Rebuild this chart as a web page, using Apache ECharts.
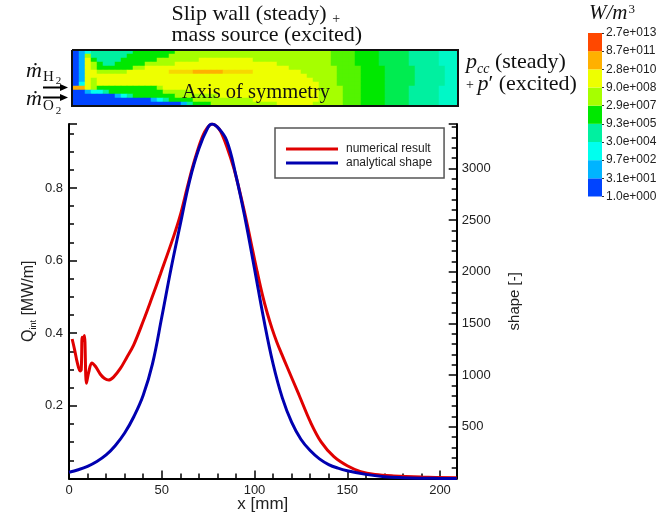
<!DOCTYPE html>
<html>
<head>
<meta charset="utf-8">
<title>Heat release: numerical result vs. analytical shape</title>
<script src="https://cdn.jsdelivr.net/npm/echarts@6/dist/echarts.min.js"></script>
<style>
  html, body { margin: 0; padding: 0; background: #fff; }
  #chart { width: 661px; height: 518px; }
</style>
</head>
<body>
<div id="chart"></div>
<script>
// ---- Axial profile: integrated heat release of the simulation [MW/m] ----
const numericalX = [1.7, 3.0, 4.5, 6.0, 6.6, 7.1, 7.6, 8.3, 9.4, 10.6, 12.3, 14.2, 16.9, 19.0, 21.4,
  24.0, 27.7, 31.0, 34.9, 40.3, 44.3, 49.3, 56.5, 60.0, 63.7, 66.5, 69.1, 72.0, 74.5, 77.2, 79.5,
  81.7, 85.0, 88.8, 92.5, 96.1, 99.0, 101.5, 104.2, 106.9, 109.5, 112.0, 114.8, 117.6, 124.0, 130.2,
  136.0, 142.8, 150.0, 157.2, 165.0, 175.0, 190.0, 209.0];
const numericalQ = [0.384, 0.355, 0.318, 0.296, 0.300, 0.389, 0.380, 0.394, 0.262, 0.292, 0.318, 0.309, 0.287, 0.276, 0.271,
  0.279, 0.303, 0.332, 0.368, 0.437, 0.492, 0.563, 0.668, 0.725, 0.800, 0.855, 0.900, 0.942, 0.965, 0.976, 0.970,
  0.956, 0.915, 0.855, 0.780, 0.699, 0.628, 0.568, 0.507, 0.455, 0.412, 0.376, 0.341, 0.307, 0.230, 0.155,
  0.100, 0.060, 0.035, 0.019, 0.011, 0.007, 0.004, 0.002];

// ---- Axial profile: analytical heat-release shape [-] ----
const shapeX = [0, 5, 10, 15, 20, 25, 30, 35, 40, 45, 50, 55, 60, 65, 70, 75, 77.2, 80, 85, 90, 95,
  100, 105, 110, 115, 120, 125, 130, 135, 140, 145, 150, 160, 170, 180, 190, 200, 209];
const shapeValue = [60, 85, 118, 165, 228, 320, 440, 600, 805, 1110, 1560, 2030, 2460, 2880, 3190, 3400, 3430, 3400, 3270, 2930, 2510,
  2030, 1540, 1110, 780, 545, 380, 270, 190, 135, 100, 75, 40, 18, 8, 3, 1, 0];

// ---- Axis ranges ----
const xRange = [0, 209];
const qRange = [0, 0.976];
const shapeRange = [0, 3430];

// ---- Heat release rate field, contour level per cell ----
// Rows run from the slip wall (top) to the axis of symmetry (bottom).
// '0'..'8' are the colour-bar bands, 'a'..'h' lie half-way between two bands.
const levelCodes = '0a1b2c3d4e5f6g7h8';
const fieldRows = [
  '012' + '3333333' + '4444444' + '5555555555' + '5555555555' + '555555' + 'eeee4444ddddd33333ccc',
  '015' + '333333' + '4444444' + '5555555555' + '5555555555' + '5555555' + 'eeee4444ddddd33333ccc',
  '0164' + '3333' + '444444' + '5555555' + '666666666' + '5555555555555' + 'eeee4444ddddd33333ccc',
  '01654' + '33' + '44444' + '55555' + '6666666666' + '6666666' + '555555555' + 'eeee4444ddddd33333ccc',
  '0165' + '444444' + '55' + '6666666666' + '6666666666' + '6666' + '5555555' + '5eeee4444ddddd33333cc',
  '0166' + '55555' + '6666666' + 'gggg' + '77777' + 'ggggg' + '66666666' + '55555' + '5eeee4444ddddd33333cc',
  '016' + '6666666666' + '6666666666' + '6666666666' + '666666' + '5555' + '5eeee4444ddddd33333cc',
  '0165' + '6666666666' + '6666666666' + '6666666666' + '666666' + '555' + '5eeee4444ddddd33333cc',
  '0265' + '6666666666' + '6666666666' + '6666666666' + '6666666' + '55' + '5eeee4444ddddd33333cc',
  '7765' + '4444444444' + '5' + '6666666666' + '6666666666' + '666666' + '55' + '55eee4444dddd33333ccc',
  '001223' + '444444444' + '55555' + '6666666666' + '6666666666' + '6' + '55' + '55eee4444dddd33333ccc',
  '0000000' + '123' + '4444444' + '5555555' + '6666666666' + '6666666' + '55' + '55eee4444dddd33333ccc',
  '0000000000000' + '123' + '4444' + '5555555555' + '66666666666' + '55' + '55eee4444dddd33333ccc',
  '000000000000000000' + '13' + '444' + '55555555555' + '666666' + '555' + '55eee4444dddd33333ccc'
];

// ---- Colour bar (W/m^3, logarithmic bands, bottom to top) ----
const barLabels = ['1.0e+000', '3.1e+001', '9.7e+002', '3.0e+004', '9.3e+005',
  '2.9e+007', '9.0e+008', '2.8e+010', '8.7e+011', '2.7e+013'];
const bandColors = ['#0044ff', '#00b4ff', '#00ffee', '#00f0a0', '#00e800',
  '#a6ff00', '#eeff00', '#ffb000', '#ff4800'];

// ---------------------------------------------------------------------------
const sans = "'Liberation Sans', Arial, sans-serif";
const serif = "'Liberation Serif', 'DejaVu Serif', serif";
const ink = '#222';

const fieldCols = fieldRows[0].length;
const fieldData = [];
fieldRows.forEach((row, r) => {
  if (row.length !== fieldCols) throw new Error('field row ' + r + ' has ' + row.length + ' cells');
  for (let c = 0; c < fieldCols; c++) {
    const code = levelCodes.indexOf(row[c]);
    if (code < 0) throw new Error('unknown level code ' + row[c]);
    fieldData.push([c, r, code / 2]);
  }
});
const colIds = fieldRows[0].split('').map((_, i) => i);
const rowIds = fieldRows.map((_, i) => i);

const tickStyle = { color: '#000', width: 1.5 };
const labelStyle = { fontSize: 13, color: ink, fontFamily: sans };

const chart = echarts.init(document.getElementById('chart'));

chart.setOption({
  animation: false,
  textStyle: { fontFamily: sans },
  grid: [
    { left: 69, top: 124, width: 387.7, height: 354.5, outerBoundsMode: 'none' },
    { left: 73, top: 50, width: 384, height: 56, outerBoundsMode: 'none' },
    { left: 588, top: 33, width: 14, height: 163.5, outerBoundsMode: 'none' }
  ],
  legend: {
    data: ['numerical result', 'analytical shape'],
    orient: 'vertical',
    left: 275, top: 128,
    icon: 'rect',
    itemWidth: 52, itemHeight: 3, itemGap: 2,
    padding: [15, 12, 9, 11],
    borderColor: '#555', borderWidth: 1.5, backgroundColor: '#fff',
    selectedMode: false,
    textStyle: { fontFamily: sans, fontSize: 12, color: ink, padding: [0, 0, 0, 3] }
  },
  visualMap: [{
    type: 'continuous', show: false, seriesIndex: 2, dimension: 2,
    min: 0, max: 8, inRange: { color: bandColors }
  }],
  xAxis: [
    {
      type: 'value', gridIndex: 0, min: xRange[0], max: xRange[1], interval: 50,
      axisLine: { show: true, onZero: false, lineStyle: { color: '#000', width: 2 } },
      axisTick: { show: true, inside: true, length: 8, lineStyle: tickStyle },
      minorTick: { show: true, splitNumber: 5, length: 5, lineStyle: tickStyle },
      splitLine: { show: false }, minorSplitLine: { show: false },
      axisLabel: Object.assign({ showMaxLabel: false, margin: 5, formatter: v => String(v) }, labelStyle),
      name: 'x [mm]', nameLocation: 'middle', nameGap: 17, nameMoveOverlap: false,
      nameTextStyle: { fontSize: 17, color: ink, fontFamily: sans }
    },
    { type: 'category', gridIndex: 1, data: colIds, show: false },
    { type: 'value', gridIndex: 2, min: 0, max: 1, show: false }
  ],
  yAxis: [
    {
      type: 'value', gridIndex: 0, position: 'left', min: qRange[0], max: qRange[1], interval: 0.2,
      axisLine: { show: true, onZero: false, lineStyle: { color: '#000', width: 2 } },
      axisTick: { show: true, inside: true, length: 8, lineStyle: tickStyle },
      minorTick: { show: true, splitNumber: 4, length: 5, lineStyle: tickStyle },
      splitLine: { show: false }, minorSplitLine: { show: false },
      axisLabel: Object.assign({ showMinLabel: false, showMaxLabel: false, margin: 6,
        formatter: v => v.toFixed(1) }, labelStyle),
      name: '{q|Q}{s|int}{u| [MW/m]}', nameLocation: 'middle', nameGap: 24, nameRotate: 90,
      nameMoveOverlap: false,
      nameTextStyle: {
        color: ink, fontFamily: sans,
        rich: {
          q: { fontSize: 16, fontFamily: sans, color: ink, lineHeight: 24, verticalAlign: 'top' },
          s: { fontSize: 9, fontFamily: sans, color: ink, lineHeight: 24, verticalAlign: 'top', padding: [8, 0, 0, 0] },
          u: { fontSize: 16, fontFamily: sans, color: ink, lineHeight: 24, verticalAlign: 'top' }
        }
      }
    },
    {
      type: 'value', gridIndex: 0, position: 'right', min: shapeRange[0], max: shapeRange[1], interval: 500,
      axisLine: { show: true, onZero: false, lineStyle: { color: '#000', width: 2 } },
      axisTick: { show: true, inside: true, length: 8, lineStyle: tickStyle },
      minorTick: { show: true, splitNumber: 5, length: 5, lineStyle: tickStyle },
      splitLine: { show: false }, minorSplitLine: { show: false },
      axisLabel: Object.assign({ showMinLabel: false, showMaxLabel: false, margin: 5,
        formatter: v => String(v) }, labelStyle),
      name: 'shape [-]', nameLocation: 'middle', nameGap: 51, nameRotate: 90, nameMoveOverlap: false,
      nameTextStyle: { fontSize: 15, color: ink, fontFamily: sans }
    },
    { type: 'category', gridIndex: 1, data: rowIds, inverse: true, show: false },
    { type: 'category', gridIndex: 2, data: bandColors.map((_, i) => i), show: false },
    {
      type: 'value', gridIndex: 2, position: 'right', min: 0, max: barLabels.length - 1, interval: 1,
      axisLine: { show: false },
      axisTick: { show: true, length: 2, lineStyle: { color: '#333', width: 1 } },
      splitLine: { show: false },
      axisLabel: { margin: 4, formatter: v => barLabels[v], fontSize: 12, color: ink, fontFamily: sans }
    }
  ],
  series: [
    {
      name: 'numerical result', type: 'line', xAxisIndex: 0, yAxisIndex: 0,
      data: numericalX.map((x, i) => [x, numericalQ[i]]),
      symbol: 'none', smooth: 0.35,
      lineStyle: { color: '#e00000', width: 3 }, itemStyle: { color: '#e00000' }, z: 3
    },
    {
      name: 'analytical shape', type: 'line', xAxisIndex: 0, yAxisIndex: 1,
      data: shapeX.map((x, i) => [x, shapeValue[i]]),
      symbol: 'none', smooth: 0.4,
      lineStyle: { color: '#0000b0', width: 3 }, itemStyle: { color: '#0000b0' }, z: 4
    },
    {
      type: 'heatmap', xAxisIndex: 1, yAxisIndex: 2, data: fieldData,
      itemStyle: { borderWidth: 0 }, emphasis: { disabled: true }, progressive: 0, silent: true
    },
    {
      type: 'bar', xAxisIndex: 2, yAxisIndex: 3, barWidth: '100%', silent: true,
      data: bandColors.map(c => ({ value: 1, itemStyle: { color: c } }))
    }
  ],
  graphic: [
    // domain outline
    { type: 'polyline', z: 100,
      shape: { points: [[72, 50], [458, 50], [458, 106], [72, 106], [72, 50]] },
      style: { stroke: '#111', lineWidth: 2, fill: null } },
    // inflow arrows
    { type: 'line', z: 100, shape: { x1: 43, y1: 87.5, x2: 62, y2: 87.5 }, style: { stroke: '#000', lineWidth: 2 } },
    { type: 'polygon', z: 100, shape: { points: [[60, 84], [68, 87.5], [60, 91]] }, style: { fill: '#000' } },
    { type: 'line', z: 100, shape: { x1: 43, y1: 97.5, x2: 62, y2: 97.5 }, style: { stroke: '#000', lineWidth: 2 } },
    { type: 'polygon', z: 100, shape: { points: [[60, 94], [68, 97.5], [60, 101]] }, style: { fill: '#000' } },
    // boundary annotations
    { type: 'text', z: 100, x: 171.5, y: 3.5,
      style: { text: '{a|Slip wall (steady) }{b|+}', verticalAlign: 'top', fill: '#111',
        rich: {
          a: { fontSize: 22, fontFamily: serif, fill: '#111', lineHeight: 26, verticalAlign: 'top' },
          b: { fontSize: 14, fontFamily: serif, fill: '#111', lineHeight: 26, verticalAlign: 'top', padding: [9, 0, 0, 0] }
        } } },
    { type: 'text', z: 100, x: 171.5, y: 35.5,
      style: { text: 'mass source (excited)', font: '22px ' + serif, fill: '#111', verticalAlign: 'middle' } },
    { type: 'text', z: 100, x: 182, y: 93,
      style: { text: 'Axis of symmetry', font: '20.5px ' + serif, fill: '#111', verticalAlign: 'middle' } },
    { type: 'text', z: 100, x: 466, y: 51,
      style: { text: '{p|p}{s|cc}{t| (steady)}', verticalAlign: 'top', fill: '#111',
        rich: {
          p: { fontSize: 22, fontFamily: serif, fontStyle: 'italic', fill: '#111', lineHeight: 26, verticalAlign: 'top' },
          s: { fontSize: 14, fontFamily: serif, fontStyle: 'italic', fill: '#111', lineHeight: 26, verticalAlign: 'top', padding: [11, 0, 0, 0] },
          t: { fontSize: 22, fontFamily: serif, fill: '#111', lineHeight: 26, verticalAlign: 'top' }
        } } },
    { type: 'text', z: 100, x: 466, y: 73.5,
      style: { text: '{a|+ }{p|p}{r|\u2032}{t| (excited)}', verticalAlign: 'top', fill: '#111',
        rich: {
          a: { fontSize: 14, fontFamily: serif, fill: '#111', lineHeight: 26, verticalAlign: 'top', padding: [5, 0, 0, 0] },
          p: { fontSize: 22, fontFamily: serif, fontStyle: 'italic', fill: '#111', lineHeight: 26, verticalAlign: 'top' },
          r: { fontSize: 22, fontFamily: serif, fill: '#111', lineHeight: 26, verticalAlign: 'top' },
          t: { fontSize: 22, fontFamily: serif, fill: '#111', lineHeight: 26, verticalAlign: 'top' }
        } } },
    { type: 'text', z: 100, x: 26, y: 60,
      style: { text: '{m|\u1E41}{h|H}{n|2}', verticalAlign: 'top', fill: '#111',
        rich: {
          m: { fontSize: 22, fontFamily: serif, fontStyle: 'italic', fill: '#111', lineHeight: 30, verticalAlign: 'top' },
          h: { fontSize: 15, fontFamily: serif, fill: '#111', lineHeight: 30, verticalAlign: 'top', padding: [10, 0, 0, 1] },
          n: { fontSize: 11, fontFamily: serif, fill: '#111', lineHeight: 30, verticalAlign: 'top', padding: [16, 0, 0, 2] }
        } } },
    { type: 'text', z: 100, x: 26, y: 88.5,
      style: { text: '{m|\u1E41}{h|O}{n|2}', verticalAlign: 'top', fill: '#111',
        rich: {
          m: { fontSize: 22, fontFamily: serif, fontStyle: 'italic', fill: '#111', lineHeight: 30, verticalAlign: 'top' },
          h: { fontSize: 15, fontFamily: serif, fill: '#111', lineHeight: 30, verticalAlign: 'top', padding: [10, 0, 0, 1] },
          n: { fontSize: 11, fontFamily: serif, fill: '#111', lineHeight: 30, verticalAlign: 'top', padding: [17, 0, 0, 2] }
        } } },
    // colour-bar unit
    { type: 'text', z: 100, x: 589, y: 3,
      style: { text: '{w|W/m}{e|3}', verticalAlign: 'top', fill: '#111',
        rich: {
          w: { fontSize: 21, fontFamily: serif, fontStyle: 'italic', fill: '#111', lineHeight: 24, verticalAlign: 'top' },
          e: { fontSize: 13, fontFamily: serif, fill: '#111', lineHeight: 24, verticalAlign: 'top', padding: [0, 0, 0, 1] }
        } } }
  ]
});
</script>
</body>
</html>
